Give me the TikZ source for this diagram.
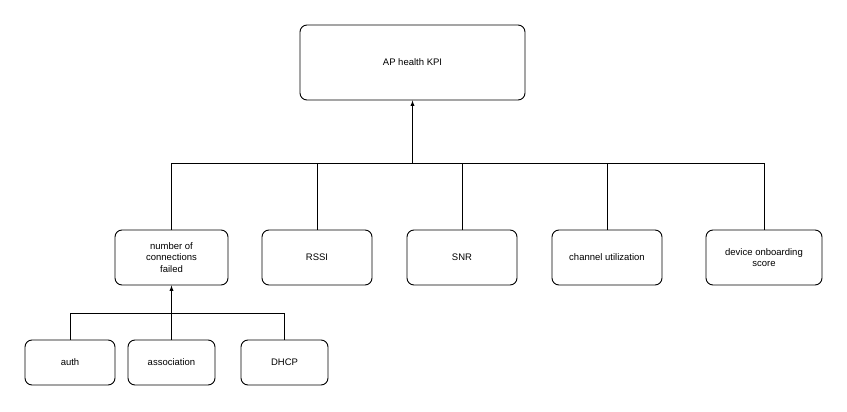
\documentclass[tikz,border=0pt]{standalone}
\usepackage{fontspec}
\setmainfont{Liberation Sans}
\begin{document}
\begin{tikzpicture}[x=1pt,y=-1pt,
  box/.style={draw,rounded corners=7pt,line width=0.9pt,align=center,font=\fontsize{9.5}{11.5}\selectfont,inner sep=0pt},
  ln/.style={line width=0.9pt},
  ar/.style={line width=0.9pt,-latex}]
\useasboundingbox (0,0) rectangle (847,412);
\node[box,minimum width=225pt,minimum height=75pt] (kpi) at (412.5,62.5) {AP health KPI};
\node[box,minimum width=113pt,minimum height=55pt] (ncf) at (171.5,257.5) {number of\\connections\\failed};
\node[box,minimum width=110pt,minimum height=55pt] (rssi) at (317,257.5) {RSSI};
\node[box,minimum width=110pt,minimum height=55pt] (snr) at (462,257.5) {SNR};
\node[box,minimum width=110pt,minimum height=55pt] (ch) at (607,257.5) {channel utilization};
\node[box,minimum width=116pt,minimum height=55pt] (dev) at (764,257.5) {device onboarding\\score};
\node[box,minimum width=90pt,minimum height=45pt] (auth) at (70,362.5) {auth};
\node[box,minimum width=87pt,minimum height=45pt] (assoc) at (171.5,362.5) {association};
\node[box,minimum width=87pt,minimum height=45pt] (dhcp) at (284.5,362.5) {DHCP};
\coordinate (j1) at (412.5,163);
\coordinate (j2) at (171.5,313);
\draw[ar] (j1) -- (kpi.south);
\draw[ln] (ncf.north) |- (dev.north |- j1) -- (dev.north);
\foreach \n in {rssi,snr,ch} \draw[ln] (\n.north) -- (\n.north |- j1);
\draw[ar] (j2) -- (ncf.south);
\draw[ln] (auth.north) |- (dhcp.north |- j2) -- (dhcp.north);
\draw[ln] (assoc.north) -- (j2);
\end{tikzpicture}
\end{document}
